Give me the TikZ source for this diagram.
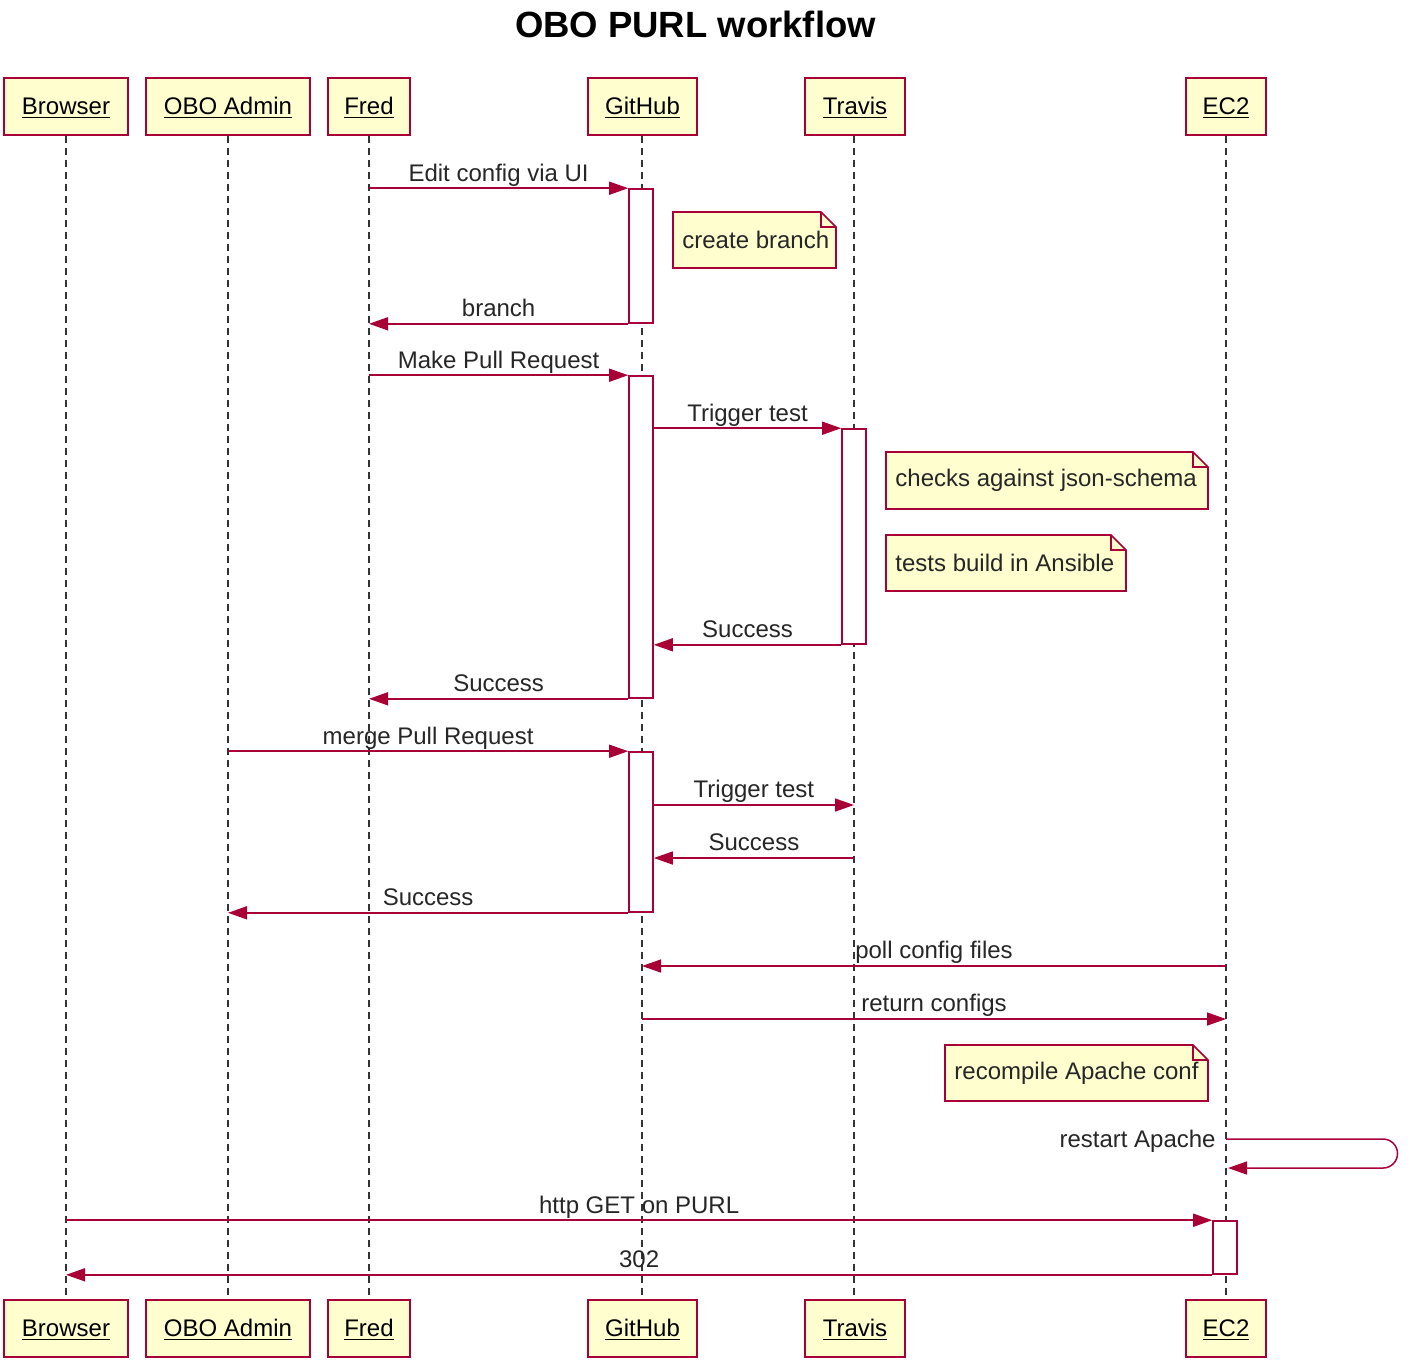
\documentclass[tikz,border=0pt]{standalone}
\usepackage{fontspec}
\setmainfont{Liberation Sans}
\usetikzlibrary{arrows.meta}
\definecolor{umlred}{HTML}{A80036}
\definecolor{umlfill}{HTML}{FEFECE}
\newcommand\umlnote[6]{%
  \filldraw[notebg] (#2,#3) -- ({#4-15},#3) -- (#4,{#3+15}) -- (#4,#5) -- (#2,#5) -- cycle;
  \draw[notebg, fill=none] ({#4-15},#3) -- ({#4-15},{#3+15}) -- (#4,{#3+15});
  \node[lbl, anchor=west] (#1) at ({#2+9},{(#3+#5)/2}) {#6};%
}
\begin{document}
\begin{tikzpicture}[x=0.5pt,y=-0.5pt,
  part/.style={draw=umlred, fill=umlfill, line width=0.9pt, minimum height=28.5pt, inner sep=0pt, text height=8.5pt, text depth=0.8pt, font=\fontsize{12}{14}\selectfont},
  life/.style={draw=black!80, line width=0.7pt, dash pattern=on 3.5pt off 2.5pt},
  act/.style={draw=umlred, fill=white, line width=0.8pt, inner sep=0pt, minimum width=12pt},
  msg/.style={draw=umlred, line width=0.75pt, -{Triangle[length=9.5pt,width=6.5pt]}},
  lbl/.style={font=\fontsize{12}{14}\selectfont, text=black!85, inner sep=0pt, anchor=base},
  notebg/.style={draw=umlred, fill=umlfill, line width=0.8pt},
]
\useasboundingbox (0,0) rectangle (1412,1362);

% title
\node[font=\bfseries\fontsize{18.25}{21}\selectfont, anchor=base, inner sep=0pt] (title) at (695.5,37) {OBO PURL workflow};

% participants (top)
\node[part, minimum width=62pt]   (browserT) at (66,106.5)  {\underline{Browser}};
\node[part, minimum width=82pt]   (adminT)   at (228,106.5) {\underline{OBO Admin}};
\node[part, minimum width=41pt]   (fredT)    at (369,106.5) {\underline{Fred}};
\node[part, minimum width=54.5pt] (githubT)  at (642.5,106.5) {\underline{GitHub}};
\node[part, minimum width=50pt]   (travisT)  at (855,106.5) {\underline{Travis}};
\node[part, minimum width=40pt]   (ec2T)     at (1226,106.5) {\underline{EC2}};
% participants (bottom)
\node[part, minimum width=62pt]   (browserB) at (66,1328.5)  {\underline{Browser}};
\node[part, minimum width=82pt]   (adminB)   at (228,1328.5) {\underline{OBO Admin}};
\node[part, minimum width=41pt]   (fredB)    at (369,1328.5) {\underline{Fred}};
\node[part, minimum width=54.5pt] (githubB)  at (642.5,1328.5) {\underline{GitHub}};
\node[part, minimum width=50pt]   (travisB)  at (855,1328.5) {\underline{Travis}};
\node[part, minimum width=40pt]   (ec2B)     at (1226,1328.5) {\underline{EC2}};

% lifelines
\draw[life] (browserT.south) -- (browserB.north);
\draw[life] (adminT.south) -- (adminB.north);
\draw[life] (fredT.south) -- (fredB.north);
\draw[life] ([xshift=-0.25pt]githubT.south) -- ([xshift=-0.25pt]githubB.north);
\draw[life] ([xshift=-0.5pt]travisT.south) -- ([xshift=-0.5pt]travisB.north);
\draw[life] (ec2T.south) -- (ec2B.north);

% activations
\node[act, minimum height=67pt]   (act1) at (641,256) {};
\node[act, minimum height=161pt]  (act2) at (641,537) {};
\node[act, minimum height=107.5pt] (actT) at (854,536.5) {};
\node[act, minimum height=80pt]   (act3) at (641,832) {};
\node[act, minimum height=26.5pt] (actE) at (1225,1247.5) {};

% helper coordinates
\coordinate (y8)  at (0,805);
\coordinate (y9)  at (0,858);
\coordinate (y11) at (0,966);
\coordinate (y12) at (0,1019);
\coordinate (y13) at (0,1139);
\coordinate (y13b) at (0,1168);

% messages
\draw[msg] (fredT |- act1.north west) -- node[lbl, yshift=3.6pt] {Edit config via UI} (act1.north west);
\draw[msg] (act1.south west) -- node[lbl, yshift=3.6pt] {branch} (fredT |- act1.south west);
\draw[msg] (fredT |- act2.north west) -- node[lbl, yshift=3.6pt] {Make Pull Request} (act2.north west);
\draw[msg] (act2.east |- actT.north) -- node[lbl, yshift=3.6pt] {Trigger test} (actT.north west);
\draw[msg] (actT.south west) -- node[lbl, yshift=3.6pt] {Success} (act2.east |- actT.south);
\draw[msg] (act2.south west) -- node[lbl, yshift=3.6pt] {Success} (fredT |- act2.south west);
\draw[msg] (adminT |- act3.north west) -- node[lbl, yshift=3.6pt] {merge Pull Request} (act3.north west);
\draw[msg] (act3.east |- y8) -- node[lbl, yshift=3.6pt] {Trigger test} ([xshift=-0.5pt]travisT |- y8);
\draw[msg] ([xshift=-0.5pt]travisT |- y9) -- node[lbl, yshift=3.6pt] {Success} (act3.east |- y9);
\draw[msg] (act3.south west) -- node[lbl, yshift=3.6pt] {Success} (adminT |- act3.south west);
\draw[msg] (ec2T |- y11) -- node[lbl, yshift=3.6pt] {poll config files} ([xshift=-0.25pt]githubT |- y11);
\draw[msg] ([xshift=-0.25pt]githubT |- y12) -- node[lbl, yshift=3.6pt] {return configs} (ec2T |- y12);
\draw[msg] (ec2T |- y13) -- ++(157,0) arc[start angle=90, end angle=-90, radius=7.25pt] -- ([xshift=1pt]ec2T |- y13b);
\node[lbl, anchor=base east] (l13) at (1216,1147) {restart Apache};
\draw[msg] (browserT |- actE.north west) -- node[lbl, yshift=3.6pt] {http GET on PURL} (actE.north west);
\draw[msg] (actE.south west) -- node[lbl, yshift=3.6pt] {302} (browserT |- actE.south west);

% notes
\umlnote{n1}{673}{212}{836}{268}{create branch}
\umlnote{n2}{886}{452}{1208}{509}{checks against json-schema}
\umlnote{n3}{886}{535}{1126}{591}{tests build in Ansible}
\umlnote{n4}{945}{1045}{1208}{1101}{recompile Apache conf}
\end{tikzpicture}
\end{document}
